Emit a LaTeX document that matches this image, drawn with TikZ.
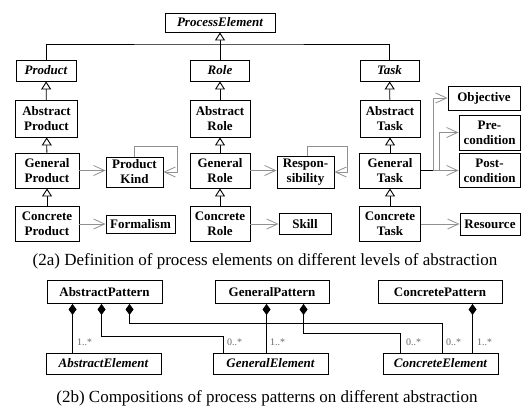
\documentclass[tikz,border=0pt]{standalone}
\usepackage{fontspec}
\setmainfont{Liberation Serif}
\usetikzlibrary{arrows.meta,calc}
\definecolor{assoc}{RGB}{145,145,145}
\definecolor{mult}{RGB}{105,105,105}
\tikzset{
  cls/.style={draw, line width=0.9pt, inner sep=0pt, align=center,
    font=\fontsize{13}{15}\selectfont\bfseries},
  abscls/.style={cls, font=\fontsize{13}{15}\selectfont\bfseries\itshape},
  genline/.style={draw, line width=0.9pt,
    -{Triangle[fill=white, length=8pt, width=10pt, line width=0.9pt]}},
  plainline/.style={draw, line width=0.9pt},
  assocline/.style={draw=assoc, line width=0.8pt,
    -{Straight Barb[length=11pt, width=10pt, line width=0.8pt]}},
  compline/.style={draw, line width=0.9pt, {Diamond[length=11pt, width=8pt]}-},
  multlabel/.style={font=\fontsize{10}{12}\selectfont, text=mult, inner sep=0pt, anchor=west},
  caption/.style={font=\fontsize{17}{20}\selectfont, inner sep=0pt},
}
\begin{document}
\begin{tikzpicture}[x=1pt, y=-1pt]
\useasboundingbox (0,0) rectangle (521,410);
\fill[white] (0,0) rectangle (521,410);

% ---------- (2a) process element hierarchy ----------
\node[abscls, minimum width=110, minimum height=19] (pe) at (220,22.5) {ProcessElement};

\node[abscls, minimum width=60, minimum height=21] (prod) at (46,70.5) {Product};
\node[abscls, minimum width=59, minimum height=21] (role) at (220,70.5) {Role};
\node[abscls, minimum width=59, minimum height=21] (task) at (389.5,70.5) {Task};

\node[cls, minimum width=62, minimum height=37] (ap) at (46.5,118.5) {Abstract\\Product};
\node[cls, minimum width=64, minimum height=35] (gp) at (47,170.5) {General\\Product};
\node[cls, minimum width=64, minimum height=35] (cp) at (47,224) {Concrete\\Product};

\node[cls, minimum width=60, minimum height=37] (ar) at (220,118.5) {Abstract\\Role};
\node[cls, minimum width=60, minimum height=35] (gr) at (220,170.5) {General\\Role};
\node[cls, minimum width=60, minimum height=35] (cr) at (220,224) {Concrete\\Role};

\node[cls, minimum width=60, minimum height=37] (at) at (390,118.5) {Abstract\\Task};
\node[cls, minimum width=61, minimum height=35] (gt) at (390,170.5) {General\\Task};
\node[cls, minimum width=61, minimum height=35] (ct) at (390,224) {Concrete\\Task};

\node[cls, minimum width=57, minimum height=30] (pk) at (134.5,172) {Product\\Kind};
\node[cls, minimum width=69, minimum height=18] (form) at (140.5,224) {Formalism};
\node[cls, minimum width=57, minimum height=32] (resp) at (305.5,172) {Respon-\\sibility};
\node[cls, minimum width=52, minimum height=21] (skill) at (305,224) {Skill};
\node[cls, minimum width=72, minimum height=24] (obj) at (484,98) {Objective};
\node[cls, minimum width=61, minimum height=35] (pre) at (489.5,132.5) {Pre-\\condition};
\node[cls, minimum width=61, minimum height=34] (post) at (489.5,170.5) {Post-\\condition};
\node[cls, minimum width=60, minimum height=22] (res) at (490,224) {Resource};

% generalisation
\coordinate (bus) at (220,44);
\draw[plainline] (prod.north) |- (bus) -| (task.north);
\draw[genline] (role.north) -- (pe.south);
\draw[genline] (ap) -- (prod);
\draw[genline] (gp) -- (ap);
\draw[genline] (cp) -- (gp);
\draw[genline] (ar) -- (role);
\draw[genline] (gr) -- (ar);
\draw[genline] (cr) -- (gr);
\draw[genline] (at) -- (task);
\draw[genline] (gt) -- (at);
\draw[genline] (ct) -- (gt);

% associations
\draw[assocline] (gp.east) -- (gp.east -| pk.west);
\draw[assocline] (cp.east) -- (form.west);
\draw[assocline] (gr.east) -- (gr.east -| resp.west);
\draw[assocline] (cr.east) -- (skill.west);
\draw[assocline] (ct.east) -- (res.west);
\draw[assocline] (pk.north) -- ++(0,-10) -| ($(pk.east)+(14,0)$) -- (pk.east);
\draw[assocline] ([xshift=1.5pt]resp.north) -- ++(0,-9) -| ($(resp.east)+(13,0)$) -- (resp.east);

\coordinate (tj) at (433,170.5);
\coordinate (tj2) at (439,170.5);
\draw[plainline] (gt.east) -- (tj);
\draw[assocline] (tj) |- (obj.west);
\draw[assocline] (tj2) |- (pre.west);
\draw[assocline] (tj) -- (post.west);

\node[caption] (cap1) at (265,261) {(2a) Definition of process elements on different levels of abstraction};

% ---------- (2b) pattern compositions ----------
\node[cls, minimum width=115, minimum height=23] (apat) at (104.5,292) {AbstractPattern};
\node[cls, minimum width=114, minimum height=23] (gpat) at (272,292) {GeneralPattern};
\node[cls, minimum width=124, minimum height=23] (cpat) at (440,292) {ConcretePattern};

\node[abscls, minimum width=115, minimum height=21] (ael) at (103.5,363.5) {AbstractElement};
\node[abscls, minimum width=115, minimum height=21] (gel) at (270.5,363.5) {GeneralElement};
\node[abscls, minimum width=115, minimum height=21] (cel) at (440.5,363.5) {ConcreteElement};

\coordinate (d1) at ($(apat.south west)+(26,0)$);
\coordinate (d2) at ($(apat.south west)+(55,0)$);
\coordinate (d3) at ($(apat.south west)+(83,0)$);
\coordinate (d4) at ($(gpat.south west)+(52,0)$);
\coordinate (d5) at ($(gpat.south west)+(89,0)$);
\coordinate (d6) at ($(cpat.south west)+(95,0)$);
\coordinate (e2) at (223,336);
\coordinate (e3) at (442,323);
\coordinate (e5) at (400,333);

\draw[compline] (d1) -- (d1 |- ael.north);
\draw[compline] (d2) |- (e2) -- (e2 |- gel.north);
\draw[compline] (d3) |- (e3) -- (e3 |- cel.north);
\draw[compline] (d4) -- (d4 |- gel.north);
\draw[compline] (d5) |- (e5) -- (e5 |- cel.north);
\draw[compline] (d6) -- (d6 |- cel.north);

\node[multlabel] (m1) at (77,342) {1..*};
\node[multlabel] (m2) at (227,342) {0..*};
\node[multlabel] (m4) at (270,342) {1..*};
\node[multlabel] (m5) at (406,342) {0..*};
\node[multlabel] (m3) at (446,342) {0..*};
\node[multlabel] (m6) at (477,342) {1..*};

\node[caption] (cap2) at (267,398) {(2b) Compositions of process patterns on different abstraction};
\end{tikzpicture}
\end{document}
